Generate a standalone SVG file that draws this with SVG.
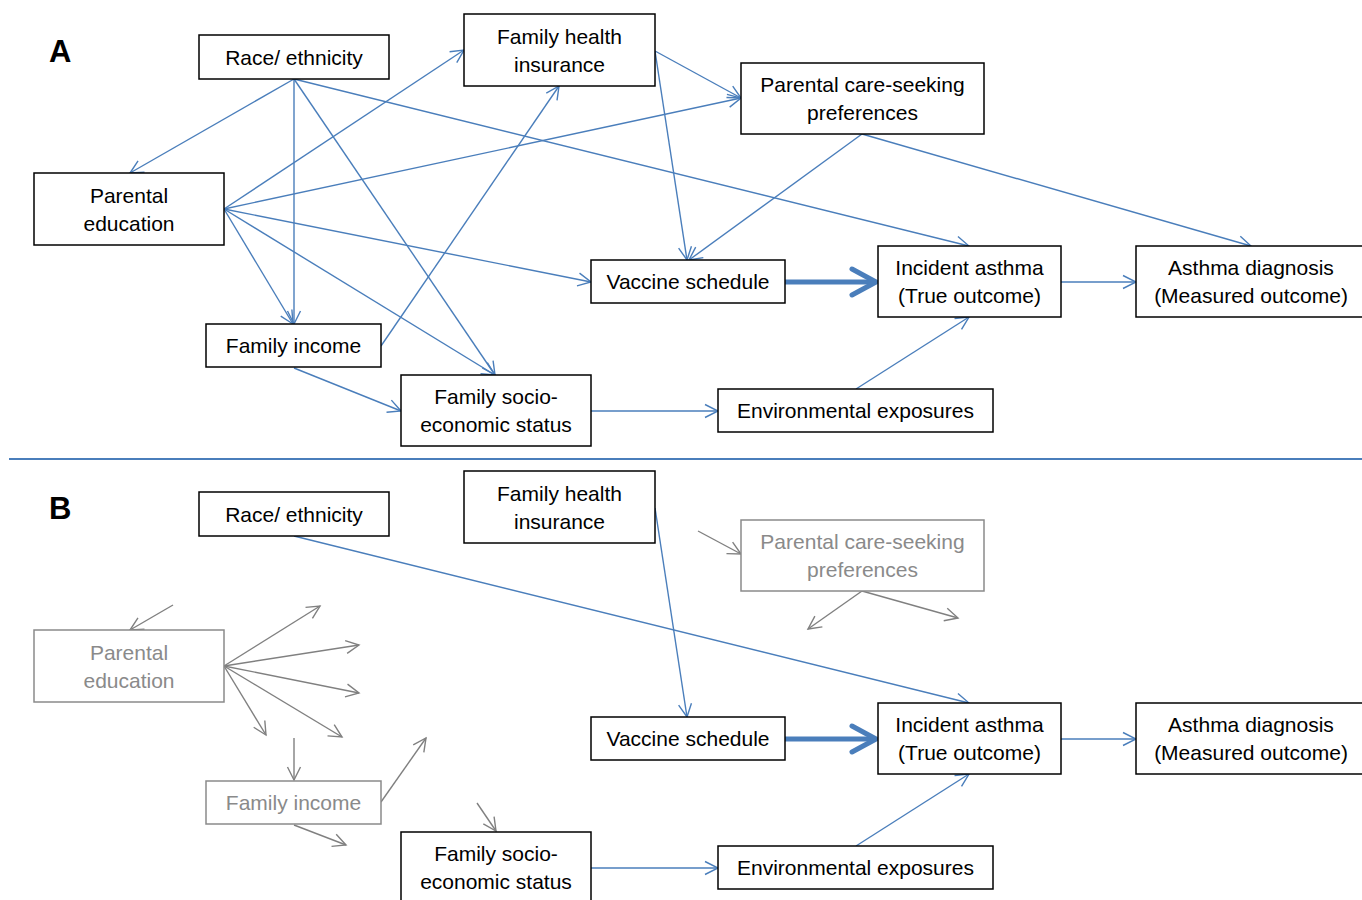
<svg xmlns="http://www.w3.org/2000/svg" width="1362" height="900" viewBox="0 0 1362 900">
<style>
.box{fill:#fff;stroke:#000;stroke-width:1.5}
.gbox{fill:#fff;stroke:#8a8a8a;stroke-width:1.5}
.t{font-family:"Liberation Sans",Arial,sans-serif;font-size:21px;fill:#000;text-anchor:middle}
.gt{font-family:"Liberation Sans",Arial,sans-serif;font-size:21px;fill:#8a8a8a;text-anchor:middle}
.lbl{font-family:"Liberation Sans",Arial,sans-serif;font-size:31px;font-weight:bold;fill:#000}
.c{stroke:#4a7ebb;stroke-width:1.4;fill:none;marker-end:url(#a)}
.g{stroke:#808080;stroke-width:1.4;fill:none;marker-end:url(#ga)}
.thick{stroke:#4a7ebb;stroke-width:5;fill:none}
</style>
<defs>
<marker id="a" viewBox="-15 -8 17 16" refX="0" refY="0" markerWidth="17" markerHeight="16" markerUnits="userSpaceOnUse" orient="auto">
<path d="M-13,-6.5 L0,0 L-13,6.5" fill="none" stroke="#4a7ebb" stroke-width="1.4"/>
</marker>
<marker id="ga" viewBox="-15 -8 17 16" refX="0" refY="0" markerWidth="17" markerHeight="16" markerUnits="userSpaceOnUse" orient="auto">
<path d="M-13,-6.5 L0,0 L-13,6.5" fill="none" stroke="#808080" stroke-width="1.4"/>
</marker>
</defs>
<rect width="1362" height="900" fill="#fff"/>

<g id="connectors">
<!-- Part A -->
<path class="c" d="M294,79 L130,173"/>
<path class="c" d="M294,79 L294,324"/>
<path class="c" d="M294,79 L495,375"/>
<path class="c" d="M294,79 L969,246"/>
<path class="c" d="M224,209 L464,50"/>
<path class="c" d="M224,209 L741,98"/>
<path class="c" d="M224,209 L591,282"/>
<path class="c" d="M224,209 L495,375"/>
<path class="c" d="M224,209 L293,324"/>
<path class="c" d="M381,346 L559,86"/>
<path class="c" d="M294,368 L401,411"/>
<path class="c" d="M655,51 L741,98"/>
<path class="c" d="M655,51 L687,260"/>
<path class="c" d="M862,134 L689,260"/>
<path class="c" d="M862,134 L1251,246"/>
<path class="thick" d="M785,282 L874,282"/>
<path class="thick" d="M852,269 L876,282 L852,295" stroke-linejoin="round" stroke-linecap="round"/>
<path class="c" d="M1061,282 L1136,282"/>
<path class="c" d="M591,411 L718,411"/>
<path class="c" d="M856,389 L969,317"/>
<!-- separator -->
<line x1="9" y1="459" x2="1362" y2="459" stroke="#4a7ebb" stroke-width="2"/>
<!-- Part B -->
<path class="c" d="M294,536 L969,703"/>
<path class="c" d="M655,508 L687,717"/>
<path class="thick" d="M785,739 L874,739"/>
<path class="thick" d="M852,726 L876,739 L852,752" stroke-linejoin="round" stroke-linecap="round"/>
<path class="c" d="M1061,739 L1136,739"/>
<path class="c" d="M591,868 L718,868"/>
<path class="c" d="M856,846 L969,774"/>
<!-- grey stubs -->
<path class="g" d="M173,605 L130,630"/>
<path class="g" d="M224,666 L320,606"/>
<path class="g" d="M224,666 L359,645"/>
<path class="g" d="M224,666 L359,693"/>
<path class="g" d="M224,666 L342,737"/>
<path class="g" d="M224,666 L266,735"/>
<path class="g" d="M294,738 L294,780"/>
<path class="g" d="M381,802 L426,738"/>
<path class="g" d="M294,825 L346,845"/>
<path class="g" d="M477,803 L496,831"/>
<path class="g" d="M698,531 L741,554"/>
<path class="g" d="M862,591 L808,629"/>
<path class="g" d="M862,591 L958,618"/>
</g>

<text class="lbl" x="49" y="62">A</text>
<text class="lbl" x="49" y="519">B</text>

<!-- Part A nodes -->
<g id="a-race"><rect class="box" x="199" y="35" width="190" height="44"/><text class="t" x="294" y="64.5">Race/ ethnicity</text></g>
<g id="a-pared"><rect class="box" x="34" y="173" width="190" height="72"/><text class="t" x="129" y="202.5">Parental</text><text class="t" x="129" y="230.5">education</text></g>
<g id="a-fhi"><rect class="box" x="464" y="14" width="191" height="72"/><text class="t" x="559.5" y="43.5">Family health</text><text class="t" x="559.5" y="71.5">insurance</text></g>
<g id="a-pcs"><rect class="box" x="741" y="63" width="243" height="71"/><text class="t" x="862.5" y="92">Parental care-seeking</text><text class="t" x="862.5" y="120">preferences</text></g>
<g id="a-vacc"><rect class="box" x="591" y="260" width="194" height="43"/><text class="t" x="688" y="289">Vaccine schedule</text></g>
<g id="a-inc"><rect class="box" x="878" y="246" width="183" height="71"/><text class="t" x="969.5" y="275">Incident asthma</text><text class="t" x="969.5" y="303">(True outcome)</text></g>
<g id="a-diag"><rect class="box" x="1136" y="246" width="227" height="71"/><text class="t" x="1251" y="275">Asthma diagnosis</text><text class="t" x="1251" y="303">(Measured outcome)</text></g>
<g id="a-finc"><rect class="box" x="206" y="324" width="175" height="43"/><text class="t" x="293.5" y="353">Family income</text></g>
<g id="a-fses"><rect class="box" x="401" y="375" width="190" height="71"/><text class="t" x="496" y="404">Family socio-</text><text class="t" x="496" y="432">economic status</text></g>
<g id="a-env"><rect class="box" x="718" y="389" width="275" height="43"/><text class="t" x="855.5" y="418">Environmental exposures</text></g>

<!-- Part B nodes -->
<g id="b-race"><rect class="box" x="199" y="492" width="190" height="44"/><text class="t" x="294" y="521.5">Race/ ethnicity</text></g>
<g id="b-pared"><rect class="gbox" x="34" y="630" width="190" height="72"/><text class="gt" x="129" y="659.5">Parental</text><text class="gt" x="129" y="687.5">education</text></g>
<g id="b-fhi"><rect class="box" x="464" y="471" width="191" height="72"/><text class="t" x="559.5" y="500.5">Family health</text><text class="t" x="559.5" y="528.5">insurance</text></g>
<g id="b-pcs"><rect class="gbox" x="741" y="520" width="243" height="71"/><text class="gt" x="862.5" y="549">Parental care-seeking</text><text class="gt" x="862.5" y="577">preferences</text></g>
<g id="b-vacc"><rect class="box" x="591" y="717" width="194" height="43"/><text class="t" x="688" y="746">Vaccine schedule</text></g>
<g id="b-inc"><rect class="box" x="878" y="703" width="183" height="71"/><text class="t" x="969.5" y="732">Incident asthma</text><text class="t" x="969.5" y="760">(True outcome)</text></g>
<g id="b-diag"><rect class="box" x="1136" y="703" width="227" height="71"/><text class="t" x="1251" y="732">Asthma diagnosis</text><text class="t" x="1251" y="760">(Measured outcome)</text></g>
<g id="b-finc"><rect class="gbox" x="206" y="781" width="175" height="43"/><text class="gt" x="293.5" y="810">Family income</text></g>
<g id="b-fses"><rect class="box" x="401" y="832" width="190" height="71"/><text class="t" x="496" y="861">Family socio-</text><text class="t" x="496" y="889">economic status</text></g>
<g id="b-env"><rect class="box" x="718" y="846" width="275" height="43"/><text class="t" x="855.5" y="875">Environmental exposures</text></g>
</svg>
